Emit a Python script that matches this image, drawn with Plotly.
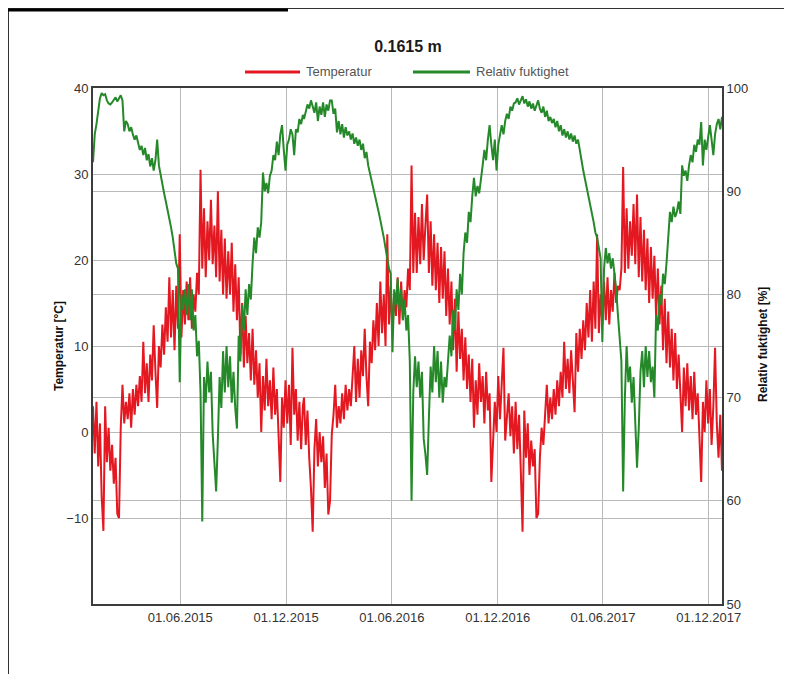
import datetime as dt
import plotly.graph_objects as go

# ---------------- data (every 3rd day) ----------------
step_days = 3
year_starts = ["2015-01-01", "2016-01-01", "2017-01-01"]

temp_2015 = [3.0, -2.5, 3.5, -4.0, 1.0, -7.5, -11.5, 3.0, -3.5, 0.5,
             -4.5, -1.5, -6.0, -3.0, -9.5, -10.0, 0.5, 5.5, 1.0, 3.5,
             1.5, 4.5, 0.5, 5.0, 2.0, 5.5, 3.0, 6.5, 3.5, 10.5,
             4.5, 8.0, 3.5, 9.0, 6.0, 12.4, 7.0, 2.8, 10.0, 7.5,
             12.5, 9.0, 14.5, 10.5, 18.0, 11.0, 16.5, 9.5, 17.0, 12.0,
             23.0, 11.0, 16.5, 12.5, 17.5, 13.0, 18.0, 12.0, 16.0, 14.0,
             18.5, 16.0, 30.5, 19.0, 26.0, 18.0, 24.5, 20.0, 27.0, 19.5,
             24.0, 18.0, 28.0, 17.5, 23.5, 16.0, 22.5, 15.5, 21.0, 16.0,
             22.0, 14.0, 19.5, 13.0, 18.0, 9.0, 15.0, 7.5, 13.5, 8.0,
             11.5, 6.0, 12.0, 5.5, 9.5, 4.0, 8.0, 0.0, 6.5, 2.5,
             8.5, 3.0, 6.0, 1.5, 7.5, 2.0, 5.0, -1.0, -5.8, 4.0,
             0.5, 6.0, 1.0, 5.5, -1.5, 9.8, 2.0, 5.0, -1.0, 3.5,
             -2.0, 3.0]

temp_2016 = [4.0, -1.5, 2.5, -3.0, -6.5, -11.6, -2.0, 1.5, -4.0, 0.0,
             -3.5, -0.5, -6.5, -2.5, -9.6, -8.0, -0.3, 2.0, 5.5, 0.5,
             3.0, 1.0, 4.5, 1.5, 5.5, 2.5, 5.0, 3.0, 7.0, 10.0,
             3.5, 8.5, 4.0, 9.5, 6.5, 12.0, 6.5, 3.0, 10.5, 8.0,
             13.0, 9.5, 15.0, 10.0, 17.5, 11.5, 16.0, 10.0, 23.0, 12.5,
             17.0, 11.5, 16.0, 13.5, 18.0, 12.5, 17.5, 13.0, 16.5, 14.5,
             19.0, 16.5, 31.0, 18.5, 25.5, 18.5, 25.0, 19.5, 26.5, 20.0,
             24.0, 27.6, 18.5, 24.5, 17.0, 23.0, 16.5, 22.0, 15.0, 21.5,
             15.5, 21.0, 13.5, 19.0, 12.5, 17.5, 9.5, 15.5, 7.0, 14.0,
             8.5, 12.0, 6.0, 11.0, 5.0, 9.0, 3.5, 8.5, 0.5, 6.0,
             2.0, 8.0, 3.5, 6.5, 1.0, 7.0, 2.5, 4.5, -5.8, -1.5,
             3.5, 0.0, 6.5, 1.5, 5.0, 9.8, -1.0, 2.5, 4.5, -0.5,
             3.0, -2.5]

temp_2017 = [3.5, -2.0, 2.0, -4.5, -11.6, 2.5, -3.0, 1.0, -5.0, -1.0,
             -4.0, -2.0, -10.0, -9.5, -3.0, 0.5, -1.5, 2.0, 5.5, 1.0,
             4.0, 1.5, 5.0, 2.0, 6.0, 3.0, 7.0, 4.0, 10.5, 5.0,
             8.5, 4.5, 9.5, 6.0, 2.3, 11.5, 7.0, 12.0, 8.5, 13.0,
             9.5, 15.0, 11.0, 16.5, 10.5, 17.5, 12.0, 23.0, 11.5, 16.0,
             12.5, 17.5, 13.0, 18.0, 12.5, 16.5, 14.0, 18.5, 15.0, 17.0,
             16.5, 19.0, 30.8, 18.5, 26.0, 19.0, 24.5, 20.5, 26.5, 19.5,
             27.6, 18.0, 25.0, 17.5, 23.5, 16.5, 22.5, 15.0, 21.5, 15.5,
             20.5, 13.5, 19.0, 12.5, 17.0, 9.5, 15.5, 8.0, 14.0, 7.5,
             12.0, 6.0, 11.5, 5.0, 9.0, 4.5, 0.0, 7.5, 3.0, 8.0,
             2.5, 6.5, 1.5, 7.0, 2.0, 4.5, -1.0, -5.8, 3.5, 0.0,
             6.0, 1.0, 5.0, -1.5, 3.0, 9.8, 1.0, -3.0, 2.0, -4.5,
             0.5, -2.0]

rh_2015 = [92.8, 95.5, 96.5, 98.0, 99.0, 99.5, 99.3, 99.4, 98.8, 98.5,
           98.4, 98.6, 98.9, 99.1, 98.7, 99.0, 99.3, 98.8, 95.8, 96.8,
           96.5, 95.8, 96.2, 95.5, 95.0, 95.4, 94.6, 94.0, 94.4, 93.5,
           94.2, 93.0, 93.6, 92.4, 93.2, 92.0, 93.0, 95.0, 92.5, 91.5,
           90.5, 89.8, 89.0, 88.2, 87.5, 86.5, 85.5, 84.2, 83.0, 82.5,
           71.5, 80.0, 78.5, 80.5, 78.0, 81.0, 77.5, 80.5, 76.5, 78.0,
           74.0, 75.5, 70.5, 58.0, 72.0, 69.5, 73.5, 70.5, 72.5, 66.5,
           64.0, 60.9, 66.0, 72.0, 69.0, 74.5, 70.5, 75.0, 71.0, 74.0,
           69.5, 72.5, 69.0, 67.0, 76.0, 73.5, 79.0, 76.5, 80.5, 78.0,
           81.0, 79.5, 83.0, 85.5, 84.0, 86.5, 85.5, 87.0, 91.8, 90.0,
           90.8, 89.8, 91.5, 92.0, 93.5, 93.0, 94.8, 93.5, 95.5, 96.4,
           94.0, 92.0, 94.5, 95.0, 96.0, 95.5, 93.5, 96.0, 95.7, 97.0,
           96.5, 97.4]

rh_2016 = [97.0, 97.8, 98.4, 98.0, 98.8, 98.2, 97.6, 98.6, 96.8, 98.2,
           97.4, 98.6, 97.2, 98.4, 97.8, 98.8, 98.8, 97.5, 98.0, 95.7,
           96.8, 95.5, 96.5, 95.2, 96.2, 95.4, 95.8, 95.0, 95.6, 94.6,
           95.2, 94.4, 95.0, 94.0, 94.6, 93.2, 93.8, 92.5, 91.8, 91.0,
           90.2, 89.5, 88.8, 88.0, 87.2, 86.5, 85.5, 84.5, 83.5, 82.5,
           82.0, 74.4, 80.5, 79.0, 81.5, 78.5, 80.5, 77.5, 79.5, 76.5,
           78.0, 73.5, 60.0, 70.5, 74.0, 71.0, 73.5, 70.0, 72.5, 66.0,
           64.5, 62.5, 68.0, 73.0, 70.5, 75.0, 71.5, 74.5, 70.0, 73.5,
           69.5, 72.0, 71.0, 73.5, 76.0, 74.0, 78.5, 76.5, 80.5, 78.5,
           82.0, 80.0, 84.0, 86.0, 85.0, 88.0, 87.0, 89.5, 91.3, 89.5,
           90.5, 89.8, 91.5, 92.5, 94.0, 93.0, 95.0, 96.4, 94.5, 93.0,
           95.0, 92.0, 94.5, 95.5, 96.4, 95.5, 96.8, 97.5, 97.0, 98.2,
           97.8, 98.5]

rh_2017 = [98.6, 99.0, 98.4, 98.8, 99.2, 98.5, 98.9, 98.2, 98.7, 98.0,
           98.5, 97.8, 98.3, 98.8, 98.0, 97.6, 98.2, 97.2, 97.8, 96.8,
           97.2, 96.6, 97.0, 96.2, 96.8, 95.8, 96.4, 95.4, 96.0, 95.2,
           95.8, 95.0, 95.6, 94.8, 95.4, 94.6, 95.0, 93.8, 93.0, 92.0,
           91.2, 90.5, 89.6, 88.8, 88.0, 87.0, 86.0, 85.5, 84.5, 83.5,
           75.4, 82.5, 84.5, 83.0, 84.0, 82.5, 83.5, 82.0, 80.5, 78.0,
           76.0, 73.5, 60.9, 70.0, 75.0, 71.5, 73.0, 69.5, 72.0, 66.5,
           63.2, 67.0, 72.5, 74.5, 71.0, 75.0, 72.0, 74.5, 71.5, 73.0,
           70.0, 78.0, 76.5, 80.0, 79.0, 82.0, 81.0, 83.0, 85.5, 88.0,
           87.0, 88.5, 87.5, 88.0, 89.0, 87.8, 92.5, 91.5, 92.0, 91.0,
           92.5, 93.5, 92.8, 94.5, 93.8, 95.0, 94.5, 96.7, 92.5, 95.0,
           94.0, 95.5, 96.4, 95.0, 93.5, 95.5, 96.5, 97.0, 96.0, 97.2,
           96.5, 97.0]

tick_dates = ["2015-06-01", "2015-12-01", "2016-06-01", "2016-12-01", "2017-06-01", "2017-12-01"]
tick_labels = ["01.06.2015", "01.12.2015", "01.06.2016", "01.12.2016", "01.06.2017", "01.12.2017"]
temp_ticks = [-10, 0, 10, 20, 30, 40]
rh_ticks = [50, 60, 70, 80, 90, 100]

title_text = "0.1615 m"
name_temp = "Temperatur"
name_rh = "Relativ fuktighet"
title_temp = "Temperatur [°C]"
title_rh = "Relativ fuktighet [%]"


def build(series_by_year):
    xs, ys = [], []
    for start, vals in zip(year_starts, series_by_year):
        s = dt.date.fromisoformat(start)
        for i, v in enumerate(vals):
            xs.append(s + dt.timedelta(days=i * step_days))
            ys.append(v)
    return xs, ys


tx, ty = build([temp_2015, temp_2016, temp_2017])
hx, hy = build([rh_2015, rh_2016, rh_2017])

RED = "#e41820"
GREEN = "#25892a"
FONT = "Liberation Sans, Arial, sans-serif"

# the page has an 8px body margin; the figure is sized so the plot area lands
# at page pixels x 93..722, y 88..604
OFF = 8
W, H = 792 - OFF, 674 - OFF
PL, PR, PT, PB = 93, 722, 88, 604          # plot area in page pixels
L, T = PL - OFF, PT - OFF
R, B = W + OFF - PR, H + OFF - PB


def px(x):   # page pixel x -> paper
    return (x - PL) / (PR - PL)


def py(y):   # page pixel y -> paper
    return (PB - y) / (PB - PT)


fig = go.Figure()
fig.add_trace(go.Scatter(x=tx, y=ty, mode="lines", name=name_temp, showlegend=False,
                         line=dict(color=RED, width=2), yaxis="y"))
fig.add_trace(go.Scatter(x=hx, y=hy, mode="lines", name=name_rh, showlegend=False,
                         line=dict(color=GREEN, width=2), yaxis="y2"))

axis_common = dict(showline=True, linecolor="#3c3c3c", linewidth=2, mirror=True,
                   gridcolor="#b9b9b9", gridwidth=1, zeroline=False, ticks="",
                   tickfont=dict(family=FONT, size=13, color="#333333"))

shapes = [
    dict(type="line", xref="paper", yref="paper", x0=px(8), x1=px(792), y0=py(8.5), y1=py(8.5),
         line=dict(color="#333333", width=1)),
    dict(type="line", xref="paper", yref="paper", x0=px(8.5), x1=px(8.5), y0=py(8), y1=py(674),
         line=dict(color="#333333", width=1)),
    dict(type="line", xref="paper", yref="paper", x0=px(8), x1=px(288), y0=py(10), y1=py(10),
         line=dict(color="#000000", width=3)),
    # legend samples
    dict(type="line", xref="paper", yref="paper", x0=px(245), x1=px(300), y0=py(72), y1=py(72),
         line=dict(color=RED, width=3)),
    dict(type="line", xref="paper", yref="paper", x0=px(413), x1=px(470), y0=py(72), y1=py(72),
         line=dict(color=GREEN, width=3)),
]

annotations = [
    dict(text=name_temp, xref="paper", yref="paper", x=px(304), y=py(72), xanchor="left",
         yanchor="middle", showarrow=False, font=dict(family=FONT, size=13, color="#555555")),
    dict(text=name_rh, xref="paper", yref="paper", x=px(474), y=py(72), xanchor="left",
         yanchor="middle", showarrow=False, font=dict(family=FONT, size=13, color="#555555")),
    dict(text="<b>" + title_temp + "</b>", xref="paper", yref="paper", x=px(59), y=py(346),
         xanchor="center", yanchor="middle", textangle=-90, showarrow=False,
         font=dict(family=FONT, size=12, color="#111111")),
    dict(text="<b>" + title_rh + "</b>", xref="paper", yref="paper", x=px(763), y=py(345),
         xanchor="center", yanchor="middle", textangle=-90, showarrow=False,
         font=dict(family=FONT, size=12, color="#111111")),
]

fig.update_layout(
    width=W, height=H, autosize=False,
    margin=dict(l=L, r=R, t=T, b=B),
    paper_bgcolor="white", plot_bgcolor="white",
    font=dict(family=FONT, color="#333333"),
    title=dict(text="<b>" + title_text + "</b>", x=px(408), xref="paper", xanchor="center",
               y=1 - (46 - OFF) / H, yref="container", yanchor="middle",
               font=dict(family=FONT, size=16, color="#1a1a1a")),
    showlegend=False,
    hovermode=False,
    xaxis=dict(type="date", range=["2015-01-01", "2017-12-24"],
               tickvals=tick_dates, ticktext=tick_labels, **axis_common),
    yaxis=dict(range=[-20, 40], tickvals=temp_ticks, **axis_common),
    yaxis2=dict(range=[50, 100], tickvals=rh_ticks, overlaying="y", side="right", **axis_common),
    shapes=shapes,
    annotations=annotations,
)

fig.write_html("out.html")
